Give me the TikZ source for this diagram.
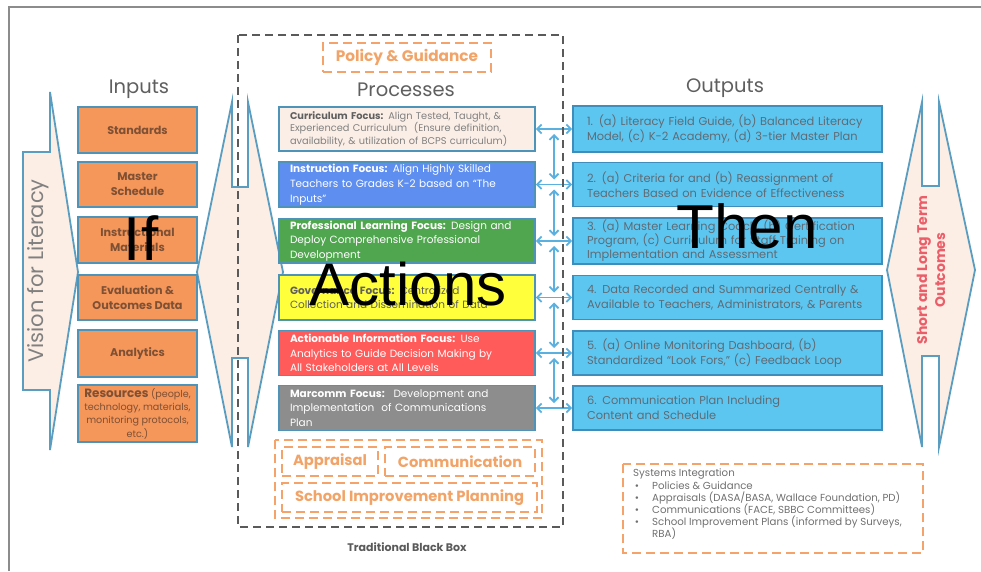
\documentclass[tikz,border=0pt]{standalone}
\usepackage{fontspec}
\setmainfont{Poppins}
\newfontfamily\bigfont{Liberation Sans}
\usetikzlibrary{arrows.meta,calc}
\definecolor{framegray}{HTML}{8C8C8C}
\definecolor{inorange}{HTML}{F5965A}
\definecolor{inbrown}{HTML}{7E5034}
\definecolor{boxblue}{HTML}{4E93B8}
\definecolor{peach}{HTML}{FCEEE5}
\definecolor{shapeline}{HTML}{5A9DC0}
\definecolor{pone}{HTML}{FBEEE6}
\definecolor{ptwo}{HTML}{5D8EF0}
\definecolor{pthree}{HTML}{50A64E}
\definecolor{pfour}{HTML}{FFFF3C}
\definecolor{pfive}{HTML}{FF5B5B}
\definecolor{psix}{HTML}{8D8D8D}
\definecolor{outblue}{HTML}{5CC6F1}
\definecolor{outborder}{HTML}{3F8DBA}
\definecolor{outtext}{HTML}{5F6B74}
\definecolor{arrowblue}{HTML}{5AB1E0}
\definecolor{dashorange}{HTML}{F4A36A}
\definecolor{orangetext}{HTML}{F2A468}
\definecolor{headgray}{HTML}{5F5F5F}
\definecolor{visiongray}{HTML}{808080}
\definecolor{outcomered}{HTML}{EB5D68}
\definecolor{blackdashc}{HTML}{5A5A5A}
\definecolor{sigray}{HTML}{707070}
\tikzset{
  shapestyle/.style={draw=shapeline, line width=1.8pt, fill=peach, line join=miter},
  header/.style={text=headgray, font=\fontsize{19.5}{21}\selectfont},
  inbox/.style={draw=boxblue, line width=1.6pt, fill=inorange, text=inbrown,
    font=\bfseries\fontsize{11.2}{15}\selectfont, align=center, minimum width=119pt, inner sep=1pt},
  pbox/.style={draw=boxblue, line width=1.6pt, minimum height=44pt, text width=234pt,
    inner xsep=11pt, inner ysep=2pt, align=left, font=\fontsize{10.5}{14.7}\selectfont},
  obox/.style={draw=outborder, line width=1.6pt, fill=outblue, text=outtext, minimum height=45pt,
    text width=281pt, inner xsep=14pt, inner ysep=2pt, align=left, font=\fontsize{11.4}{14.6}\selectfont},
  conn/.style={draw=arrowblue, line width=1.8pt,
    {Straight Barb[length=4.5pt,width=9pt]}-{Straight Barb[length=4.5pt,width=9pt]}},
  odash/.style={draw=dashorange, line width=1.5pt, dash pattern=on 9pt off 5pt},
  otext/.style={text=orangetext, font=\bfseries\fontsize{14.7}{16}\selectfont},
  bigword/.style={text=black, font=\bigfont\fontsize{60}{62}\selectfont, anchor=base},
}
\begin{document}
\begin{tikzpicture}[x=1pt,y=-1pt]
\useasboundingbox (0,0) rectangle (981,571);
\fill[white] (0,0) rectangle (981,571);
% frame
\draw[framegray, line width=2pt] (9,571) -- (9,7) -- (981,7);
% arrow shapes
\draw[shapestyle] (23,152) -- (50,152) -- (50,92) -- (78,272) -- (50,450) -- (50,390) -- (23,390) -- cycle;
\draw[shapestyle] (232,102) -- (232,187) -- (248,187) -- (248,102) -- (283,272) -- (248,447) -- (248,358) -- (232,358) -- (232,447) -- (197,272) -- cycle;
\draw[shapestyle] (922,102) -- (922,186) -- (939,186) -- (939,102) -- (975,270) -- (939,447) -- (939,356) -- (922,356) -- (922,447) -- (887,270) -- cycle;
\node[rotate=90, text=visiongray, font=\fontsize{21}{23}\selectfont] (vision) at (38,271) {Vision for Literacy};
\node[rotate=90, text=outcomered, font=\bfseries\fontsize{14}{18}\selectfont, align=center] (outc) at (931,270) {Short and Long Term\\Outcomes};
% headers
\node[header] (hin) at (139,89) {Inputs};
\node[header] (hproc) at (406,90) {Processes};
\node[header] (hout) at (725,88) {Outputs};
% inputs
\node[inbox, minimum height=46pt] (i1) at (137.5,130) {Standards};
\node[inbox, minimum height=45pt] (i2) at (137.5,184.5) {Master\\Schedule};
\node[inbox, minimum height=46pt] (i3) at (137.5,240) {Instructional\\Materials};
\node[inbox, minimum height=45pt] (i4) at (137.5,297.5) {Evaluation \&\\Outcomes Data};
\node[inbox, minimum height=47pt] (i5) at (137.5,353.5) {Analytics};
\node[inbox, minimum height=57pt, font=\fontsize{9.6}{13.3}\selectfont] (i6) at (137.5,413.5) {{\bfseries\fontsize{12}{13.3}\selectfont Resources} (people,\\technology, materials,\\monitoring protocols,\\etc.)};
% processes
\node[pbox, fill=pone, text=visiongray, font=\fontsize{9.8}{12.5}\selectfont] (p1) at (407,129) {{\color{headgray}\bfseries Curriculum Focus:} Align Tested, Taught, \&\\Experienced Curriculum~ (Ensure definition,\\availability, \& utilization of BCPS curriculum)};
\node[pbox, fill=ptwo, text=white] (p2) at (407,184.5) {\textbf{Instruction Focus:} Align Highly Skilled\\Teachers to Grades K-2 based on “The\\Inputs”};
\node[pbox, fill=pthree, text=white] (p3) at (407,241) {\textbf{Professional Learning Focus:} Design and\\Deploy Comprehensive Professional\\Development};
\node[pbox, fill=pfour, text=headgray, minimum height=45pt] (p4) at (407,297.5) {\textbf{Governance Focus:} Centralized\\Collection and Dissemination of Data};
\node[pbox, fill=pfive, text=white, minimum height=45pt] (p5) at (407,353) {\textbf{Actionable Information Focus:} Use\\Analytics to Guide Decision Making by\\All Stakeholders at All Levels};
\node[pbox, fill=psix, text=white, minimum height=45pt] (p6) at (407,408) {\textbf{Marcomm Focus:}~ Development and\\Implementation~ of Communications\\Plan};
% outputs
\node[obox, minimum height=46pt] (o1) at (727.5,129) {1. (a) Literacy Field Guide, (b) Balanced Literacy\\Model, (c) K-2 Academy, (d) 3-tier Master Plan};
\node[obox, minimum height=44pt] (o2) at (727.5,184.5) {2. (a) Criteria for and (b) Reassignment of\\Teachers Based on Evidence of Effectiveness};
\node[obox, minimum height=44pt, font=\fontsize{11.4}{14}\selectfont] (o3) at (727.5,241) {3. (a) Master Learning Coach, (b) Certification\\Program, (c) Curriculum for Staff Training on\\Implementation and Assessment};
\node[obox, minimum height=44pt] (o4) at (727.5,297.5) {4. Data Recorded and Summarized Centrally \&\\Available to Teachers, Administrators, \& Parents};
\node[obox, minimum height=44pt] (o5) at (727.5,353) {5. (a) Online Monitoring Dashboard, (b)\\Standardized “Look Fors,” (c) Feedback Loop};
\node[obox, minimum height=44pt] (o6) at (727.5,408) {6. Communication Plan Including\\Content and Schedule};
% connectors
\foreach \k in {1,...,6}{
  \coordinate (m\k) at ($(p\k.east)!0.5!(p\k.east -| o\k.west)$);
  \draw[conn] (p\k.east) -- (p\k.east -| o\k.west);
}
\foreach \a/\b in {1/2,2/3,3/4,4/5,5/6}{
  \draw[conn] ([yshift=-5pt]m\a) -- ([yshift=5pt]m\b);
}
% traditional black box
\draw[draw=blackdashc, line width=2pt, dash pattern=on 8pt off 5pt] (238,35) rectangle (563,527);
\node[text=blackdashc, font=\bfseries\fontsize{11}{13}\selectfont] (tbb) at (407,547) {Traditional Black Box};
% orange dashed boxes
\node[odash, otext, minimum width=168pt, minimum height=29pt, inner sep=0pt, font=\bfseries\fontsize{15.3}{16}\selectfont] (policy) at (407,57.5) {Policy \& Guidance};
\draw[odash] (275,440) rectangle (542,518);
\node[odash, otext, minimum width=96pt, minimum height=29pt, inner sep=0pt] (appr) at (330,461.5) {Appraisal};
\node[odash, otext, minimum width=150pt, minimum height=29pt, inner sep=0pt] (comm) at (460,461.5) {Communication};
\node[odash, otext, minimum width=255pt, minimum height=29pt, inner sep=0pt] (sip) at (409.5,497.5) {School Improvement Planning};
% systems integration
\draw[odash] (623,464) rectangle (923,553);
\node[anchor=north west, text=sigray, align=left, font=\fontsize{10.2}{12.2}\selectfont, inner sep=0pt] (si) at (633,469) {Systems Integration\\
\makebox[19pt][l]{\,\textbullet}Policies \& Guidance\\
\makebox[19pt][l]{\,\textbullet}Appraisals (DASA/BASA, Wallace Foundation, PD)\\
\makebox[19pt][l]{\,\textbullet}Communications (FACE, SBBC Committees)\\
\makebox[19pt][l]{\,\textbullet}School Improvement Plans (informed by Surveys,\\
\hspace*{19pt}RBA)};
% big words
\node[bigword, font=\bigfont\fontsize{62}{64}\selectfont] (wif) at (141,260) {If};
\node[bigword] (wact) at (408,305) {Actions};
\node[bigword, font=\bigfont\fontsize{62}{64}\selectfont] (wthen) at (747,248) {Then};
\end{tikzpicture}
\end{document}
